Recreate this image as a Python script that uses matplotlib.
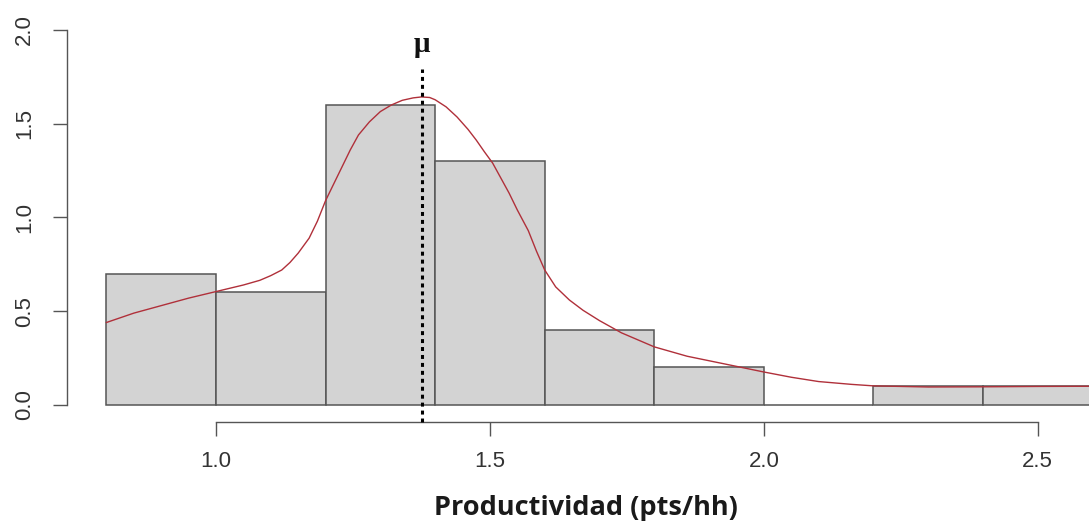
import numpy as np
import matplotlib
matplotlib.use("Agg")
import matplotlib.pyplot as plt

# Histogram bins (density scale) of productivity
bin_edges = [0.8, 1.0, 1.2, 1.4, 1.6, 1.8, 2.0, 2.2, 2.4, 2.6]
bin_density = [0.7, 0.6, 1.6, 1.3, 0.4, 0.2, 0.0, 0.1, 0.1]

# Kernel density estimate, sampled along x
kde_x = [0.8, 0.85, 0.9, 0.95, 1.0, 1.05, 1.08, 1.1, 1.12, 1.135, 1.15,
         1.17, 1.185, 1.2, 1.215, 1.23, 1.245, 1.26, 1.28, 1.3, 1.32, 1.34,
         1.36, 1.375, 1.39, 1.4, 1.42, 1.44, 1.46, 1.475, 1.49, 1.505, 1.52,
         1.535, 1.55, 1.57, 1.585, 1.6, 1.62, 1.645, 1.67, 1.7, 1.74, 1.8,
         1.86, 1.92, 2.0, 2.05, 2.1, 2.16, 2.2, 2.3, 2.4, 2.5, 2.6, 2.67]
kde_y = [0.44, 0.49, 0.53, 0.57, 0.605, 0.64, 0.665, 0.69, 0.72, 0.76, 0.81,
         0.89, 0.98, 1.09, 1.18, 1.27, 1.36, 1.44, 1.51, 1.565, 1.60, 1.625,
         1.638, 1.643, 1.64, 1.628, 1.59, 1.536, 1.47, 1.413, 1.35, 1.29, 1.21,
         1.13, 1.04, 0.93, 0.82, 0.72, 0.63, 0.56, 0.505, 0.45, 0.385, 0.31,
         0.26, 0.224, 0.176, 0.148, 0.125, 0.11, 0.102, 0.096, 0.097, 0.099,
         0.1, 0.1]

mean_value = 1.376

x_ticks = [1.0, 1.5, 2.0, 2.5]
y_ticks = [0.0, 0.5, 1.0, 1.5, 2.0]

plt.rcParams['font.family'] = ['Liberation Sans', 'DejaVu Sans']

W, H = 1089, 524
fig = plt.figure(figsize=(W / 100, H / 100), dpi=100)
# plot region (extends past the right edge, as in the original export)
left_px, right_px, top_px, bottom_px = 67, 1132, 15, 422
ax = fig.add_axes([left_px / W, 1 - bottom_px / H,
                   (right_px - left_px) / W, (bottom_px - top_px) / H])
ax.set_xlim(0.728, 2.672)
ax.set_ylim(-0.0907, 2.08)

widths = np.diff(bin_edges)
ax.bar(bin_edges[:-1], bin_density, width=widths, align='edge',
       color='#d3d3d3', edgecolor='#555555', linewidth=1.1, zorder=2)

ax.plot(kde_x, kde_y, color='#b0303a', linewidth=1.0, zorder=3, clip_on=False)

ax.vlines(mean_value, -0.0907, 1.79, colors='black', linewidth=2.2,
          linestyles=(0, (1.3, 1.3)), zorder=4, clip_on=False)
ax.text(mean_value, 1.883, 'μ', family='Liberation Serif', fontsize=21,
        fontweight='bold', ha='center', va='baseline', color='#111111')

# R-style axes: detached lines spanning only the tick range
for side in ['top', 'right']:
    ax.spines[side].set_visible(False)
ax.spines['left'].set_bounds(0.0, 2.0)
ax.spines['bottom'].set_bounds(1.0, 2.5)
for side in ['left', 'bottom']:
    ax.spines[side].set_color('#555555')
    ax.spines[side].set_linewidth(1.0)

ax.set_xticks(x_ticks)
ax.set_xticklabels(['%.1f' % v for v in x_ticks])
ax.set_yticks(y_ticks)
ax.set_yticklabels(['%.1f' % v for v in y_ticks], rotation=90, va='center')
ax.tick_params(axis='both', direction='out', length=10, width=1.0,
               color='#555555', labelsize=16, labelcolor='#333333')
ax.tick_params(axis='x', pad=11)
ax.tick_params(axis='y', pad=13)

fig.text(586 / W, 9 / H, 'Productividad (pts/hh)', family='Open Sans',
         fontweight='bold', fontsize=19.5, ha='center', va='baseline',
         color='#1a1a1a')

fig.savefig('out.png', dpi=100)
